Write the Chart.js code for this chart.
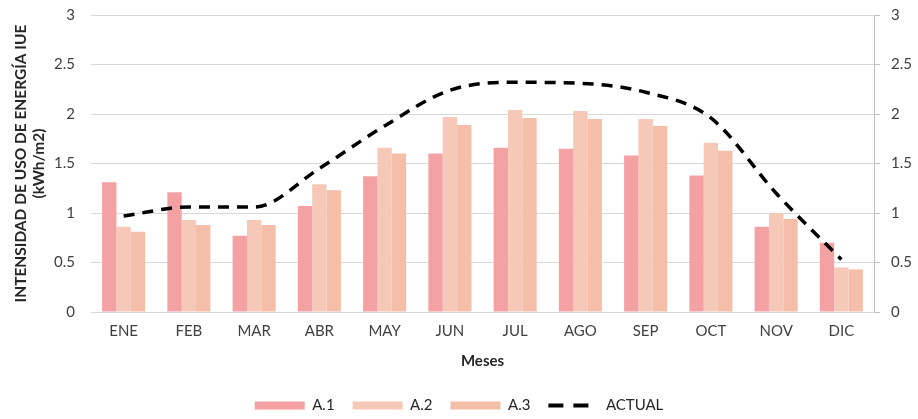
<!DOCTYPE html>
<html>
<head>
<meta charset="utf-8">
<script src="https://cdn.jsdelivr.net/npm/chart.js@4"></script>
<style>
    html, body { margin: 0; padding: 0; background: #fff; }
    #wrap { width: 918px; height: 419px; position: relative; }
</style>
</head>
<body>
<div id="wrap"><canvas id="iueChart"></canvas></div>
<script>
// months and series
const meses = ['ENE', 'FEB', 'MAR', 'ABR', 'MAY', 'JUN', 'JUL', 'AGO', 'SEP', 'OCT', 'NOV', 'DIC'];
const a1 = [1.31, 1.21, 0.77, 1.07, 1.37, 1.60, 1.66, 1.65, 1.58, 1.38, 0.86, 0.70];
const a2 = [0.86, 0.93, 0.93, 1.29, 1.66, 1.97, 2.04, 2.03, 1.95, 1.71, 1.00, 0.45];
const a3 = [0.81, 0.88, 0.88, 1.23, 1.60, 1.89, 1.96, 1.95, 1.88, 1.63, 0.94, 0.43];
const actual = [0.97, 1.06, 1.06, 1.45, 1.88, 2.24, 2.32, 2.31, 2.22, 1.96, 1.20, 0.53];
const yTicks = [0, 0.5, 1, 1.5, 2, 2.5, 3];

const fontFam = 'Lato, "Open Sans", sans-serif';
const textColor = '#404040';

const ctx = document.getElementById('iueChart').getContext('2d');

// same tick set on both sides, printed like "3" and "2.5"
function fixTicks(axis) {
    axis.ticks = yTicks.map(v => ({ value: v }));
}
const tickText = v => String(v);

const barStyle = {
    barPercentage: 1,
    categoryPercentage: 0.66,
    borderWidth: 0,
    order: 1
};

new Chart(ctx, {
    type: 'bar',
    data: {
        labels: meses,
        datasets: [
            Object.assign({ label: 'A.1', data: a1, backgroundColor: '#f4a1a4' }, barStyle),
            Object.assign({ label: 'A.2', data: a2, backgroundColor: '#f5c8b8' }, barStyle),
            Object.assign({ label: 'A.3', data: a3, backgroundColor: '#f5bea9' }, barStyle),
            {
                type: 'line',
                label: 'ACTUAL',
                data: actual,
                borderColor: '#000',
                backgroundColor: '#000',
                borderWidth: 3.5,
                borderDash: [11, 8],
                cubicInterpolationMode: 'monotone',
                pointRadius: 0,
                fill: false,
                order: 0
            }
        ]
    },
    options: {
        responsive: true,
        maintainAspectRatio: false,
        animation: false,
        layout: { padding: { left: 0, right: 0, top: 0, bottom: -4 } },
        scales: {
            x: {
                grid: { display: false, drawTicks: false },
                border: { display: false },
                ticks: { color: textColor, font: { family: fontFam, size: 15 }, padding: 10 },
                title: {
                    display: true,
                    text: 'Meses',
                    color: '#262626',
                    font: { family: fontFam, size: 15, weight: 'bold' },
                    padding: { top: 2, bottom: 10 }
                }
            },
            y: {
                min: 0,
                max: 3,
                afterBuildTicks: fixTicks,
                afterFit: scale => { scale.width = 91; },
                grid: { color: '#d9d9d9', lineWidth: 1, drawTicks: true, tickLength: 10, tickColor: 'rgba(0,0,0,0)' },
                border: { display: false },
                ticks: { color: textColor, font: { family: fontFam, size: 15 }, padding: 6, callback: tickText },
                title: {
                    display: true,
                    text: ['INTENSIDAD DE USO DE ENERGÍA IUE', '(kWh/m2)'],
                    color: '#262626',
                    font: { family: fontFam, size: 15.5, weight: 'bold', lineHeight: 1.15 },
                    padding: { top: 12, bottom: 4 }
                }
            },
            y2: {
                position: 'right',
                min: 0,
                max: 3,
                afterBuildTicks: fixTicks,
                // keep the wider label gap without pushing the plot top down
                afterFit: scale => {
                    scale.width = 44;
                    scale.paddingTop = 15;
                    scale.paddingBottom = 15;
                },
                grid: { drawOnChartArea: false, color: '#bfbfbf', tickLength: 6 },
                border: { display: true, color: '#bfbfbf', width: 1 },
                ticks: { color: textColor, font: { family: fontFam, size: 15 }, padding: 11, callback: tickText }
            }
        },
        plugins: {
            legend: {
                position: 'bottom',
                labels: {
                    color: '#262626',
                    font: { family: fontFam, size: 15 },
                    usePointStyle: true,
                    pointStyleWidth: 50,
                    boxHeight: 8,
                    padding: 18,
                    sort: (a, b) => a.datasetIndex - b.datasetIndex,
                    generateLabels: function(chart) {
                        const items = Chart.defaults.plugins.legend.labels.generateLabels(chart);
                        return items.map(item => {
                            if (item.text === 'ACTUAL') {
                                item.pointStyle = 'line';
                                item.lineWidth = 4;
                                item.lineDash = [15, 10];
                                item.strokeStyle = '#000';
                            } else {
                                item.pointStyle = 'rect';
                                item.lineWidth = 0;
                            }
                            return item;
                        });
                    }
                }
            },
            tooltip: { enabled: false }
        }
    }
});
</script>
</body>
</html>
